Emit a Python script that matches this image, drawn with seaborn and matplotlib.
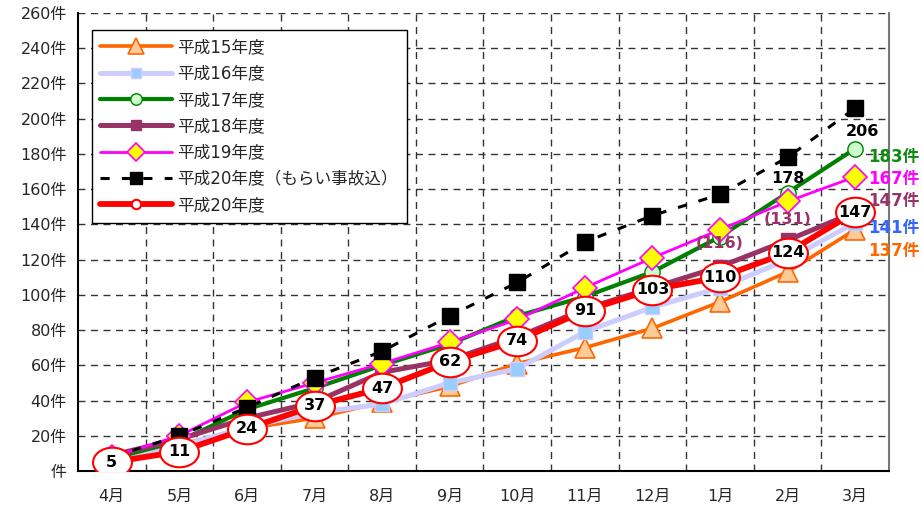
import numpy as np
import pandas as pd
import matplotlib
matplotlib.use("Agg")
import matplotlib.pyplot as plt
from matplotlib.path import Path
from matplotlib.transforms import Affine2D
import seaborn as sns

months = ["4月", "5月", "6月", "7月", "8月", "9月", "10月", "11月", "12月", "1月", "2月", "3月"]
y_ticks = [0, 20, 40, 60, 80, 100, 120, 140, 160, 180, 200, 220, 240, 260]
y_tick_labels = ["件"] + [f"{v}件" for v in y_ticks[1:]]

h15 = [6, 15, 24, 30, 39, 48, 61, 70, 81, 96, 113, 137]
h16 = [6, 14, 25, 33, 38, 50, 58, 79, 93, 104, 120, 141]
h17 = [7, 17, 35, 47, 60, 72, 88, 99, 113, 133, 158, 183]
h18 = [9, 18, 30, 39, 56, 63, 76, 92, 104, 116, 131, 147]
h19 = [8, 20, 39, 50, 61, 73, 86, 104, 121, 137, 153, 167]
h20_all = [8, 20, 36, 53, 68, 88, 107, 130, 145, 157, 178, 206]
h20 = [5, 11, 24, 37, 47, 62, 74, 91, 103, 110, 124, 147]

names = ["平成15年度", "平成16年度", "平成17年度", "平成18年度", "平成19年度",
         "平成20年度（もらい事故込）", "平成20年度"]

sns.set_theme(style="white")
plt.rcParams["font.family"] = ["DejaVu Sans", "Noto Sans CJK JP"]

fig = plt.figure(figsize=(9.22, 5.09), dpi=100)
ax = fig.add_axes([0.0846, 0.0747, 0.8796, 0.8998])

x = np.arange(len(months))

styles = [
    (h15, dict(color="#FF6600", lw=2.6, marker="^", ms=15, mfc="#FFCC99", mec="#FF6600", mew=1.2)),
    (h16, dict(color="#CCCCFF", lw=3.6, marker="s", ms=10, mfc="#99CCFF", mec="#CCCCFF", mew=1.0)),
    (h17, dict(color="#008000", lw=3.0, marker="o", ms=11, mfc="#CCFFCC", mec="#008000", mew=1.0)),
    (h18, dict(color="#993366", lw=3.6, marker="s", ms=10, mfc="#993366", mec="#993366", mew=1.0)),
    (h19, dict(color="#FF00FF", lw=2.0, marker="D", ms=12, mfc="#FFFF00", mec="#FF00FF", mew=1.2)),
    (h20_all, dict(color="black", lw=2.2, ls=(0, (3, 4)), marker="s", ms=12, mfc="black", mec="black", mew=1.0)),
    (h20, dict(color="#FF0000", lw=4.2, marker="o", ms=9, mfc="white", mec="#FF0000", mew=1.5)),
]

for (vals, kw), name in zip(styles, names):
    sns.lineplot(x=x, y=vals, ax=ax, label=name, sort=False, **kw)

# white ellipses with red border carrying this year's counts
circle = Path.unit_circle()
ellipse = circle.transformed(Affine2D().scale(1.0, 0.76))
ax.plot(x, h20, ls="none", marker=ellipse, ms=28, mfc="white", mec="#FF0000",
        mew=1.5, zorder=5, label="_nolegend_")
for xi, v in zip(x, h20):
    ax.text(xi, v, str(v), ha="center", va="center", fontsize=11.5,
            fontweight="bold", color="black", zorder=6)

# totals including no-fault accidents
ax.text(10, 166, str(h20_all[10]), ha="center", va="center", fontsize=11.5,
        fontweight="bold", color="black", zorder=6)
ax.text(11.1, 193, str(h20_all[11]), ha="center", va="center", fontsize=11.5,
        fontweight="bold", color="black", zorder=6)

# previous year's figures in parentheses
ax.text(9, 129, f"({h18[9]})", ha="center", va="center", fontsize=11.5,
        fontweight="bold", color="#993366", zorder=6)
ax.text(10, 143, f"({h18[10]})", ha="center", va="center", fontsize=11.5,
        fontweight="bold", color="#993366", zorder=6)

# year-end totals outside the right edge
ends = [(h17[-1], 178, "#108A10"), (h19[-1], 166, "#FF00FF"), (h18[-1], 153, "#993366"),
        (h16[-1], 138, "#3366FF"), (h15[-1], 125, "#FF6600")]
for v, ypos, c in ends:
    ax.text(11.19, ypos, f"{v}件", ha="left", va="center", fontsize=12,
            fontweight="bold", color=c, clip_on=False, zorder=6)

ax.set_xlim(-0.5, 11.5)
ax.set_ylim(0, 260)
ax.set_xticks(x)
ax.set_xticklabels(months, fontsize=11.5)
ax.set_yticks(y_ticks)
ax.set_yticklabels(y_tick_labels, fontsize=11.5)
ax.tick_params(axis="x", which="both", length=0, pad=13)
ax.tick_params(axis="y", which="major", length=5, width=1, color="black", direction="out", pad=3)

ax.grid(False)
for v in y_ticks[1:]:
    ax.axhline(v, color="#333333", lw=1.0, ls=(0, (5, 4)), zorder=0)
for b in np.arange(0.5, 11, 1.0):
    ax.axvline(b, color="#333333", lw=1.0, ls=(0, (5, 4)), zorder=0)

for side in ["left", "bottom"]:
    ax.spines[side].set_color("black")
    ax.spines[side].set_linewidth(1.5)
ax.spines["top"].set_visible(False)
ax.spines["right"].set_color("#777777")
ax.spines["right"].set_linewidth(1.5)
ax.set_xlabel("")
ax.set_ylabel("")

leg = ax.legend(loc="upper left", bbox_to_anchor=(0.017, 0.963), fontsize=12,
                frameon=True, fancybox=False, framealpha=1, edgecolor="black",
                handlelength=4.3, handletextpad=0.35, labelspacing=0.5,
                borderpad=0.5, markerscale=0.75, borderaxespad=0)
leg.get_frame().set_linewidth(1.0)
leg.set_zorder(7)

fig.savefig("out.png", dpi=100)
